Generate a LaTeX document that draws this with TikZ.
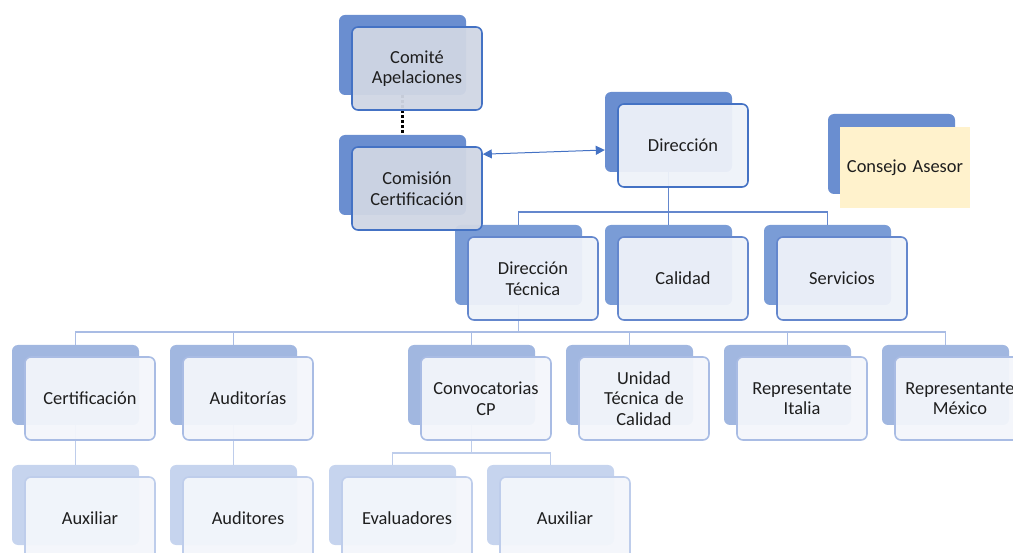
\documentclass[tikz,border=0pt]{standalone}
\usepackage{fontspec}
\setmainfont{Carlito}
\usepackage{tikz}
\usetikzlibrary{arrows.meta,calc}

\definecolor{backA}{RGB}{106,142,208}
\definecolor{backB}{RGB}{122,156,214}
\definecolor{backC}{RGB}{161,183,224}
\definecolor{backD}{RGB}{198,212,238}
\definecolor{lineA}{RGB}{68,114,196}
\definecolor{lineB}{RGB}{100,135,205}
\definecolor{lineC}{RGB}{169,188,228}
\definecolor{lineD}{RGB}{190,205,235}
\definecolor{fillA}{RGB}{208,214,228}
\definecolor{fillB}{RGB}{238,242,249}
\definecolor{fillC}{RGB}{243,246,251}
\definecolor{yellowbox}{RGB}{255,242,204}
\definecolor{txt}{RGB}{30,30,30}

\tikzset{
  backbox/.style={rectangle,rounded corners=6pt,minimum width=127pt,minimum height=80pt,inner sep=0pt},
  frontbox/.style={rectangle,rounded corners=6pt,minimum width=130pt,minimum height=83pt,inner sep=0pt,
    text width=124pt,align=center,line width=1.6pt,fill opacity=0.95,text opacity=1,text=txt,
    font=\fontsize{18.4}{20.5}\selectfont},
  link/.style={line width=1.4pt}
}

\begin{document}
\begin{tikzpicture}[x=1pt,y=-1pt]
  \useasboundingbox (0,0) rectangle (1013,553);
  % back blocks
  \node[backbox,fill=backA] (comb) at (402.5,55) {};
  \node[backbox,fill=backA] (cmsb) at (402.5,175) {};
  \node[backbox,fill=backA] (dirb) at (668.5,132) {};
  \node[backbox,fill=backA] (conb) at (891.5,154) {};
  \node[backbox,fill=backB] (dtb) at (518.5,265) {};
  \node[backbox,fill=backB] (calb) at (668.5,265) {};
  \node[backbox,fill=backB] (serb) at (827.5,265) {};
  \node[backbox,fill=backC] (cerb) at (75.5,385) {};
  \node[backbox,fill=backC] (audb) at (233.5,385) {};
  \node[backbox,fill=backC] (convb) at (471.5,385) {};
  \node[backbox,fill=backC] (utcb) at (629.5,385) {};
  \node[backbox,fill=backC] (itab) at (787.5,385) {};
  \node[backbox,fill=backC] (mexb) at (945.5,385) {};
  \node[backbox,fill=backD] (auxab) at (75.5,505) {};
  \node[backbox,fill=backD] (audtb) at (233.5,505) {};
  \node[backbox,fill=backD] (evab) at (392.5,505) {};
  \node[backbox,fill=backD] (auxbb) at (550.5,505) {};

  % connectors
  \draw[black,line width=2.5pt,dash pattern=on 2.5pt off 2.5pt] (comb.south) -- (cmsb.north);
  \draw[link,draw=lineB] (dirb.south) -- (calb.north);
  \draw[link,draw=lineB] (dirb.south) -- ++(0,40) -| (dtb.north);
  \draw[link,draw=lineB] (dirb.south) -- ++(0,40) -| (serb.north);
  \draw[link,draw=lineC] (dtb.south) -- ++(0,27) -| (cerb.north);
  \draw[link,draw=lineC] (dtb.south) -- ++(0,27) -| (audb.north);
  \draw[link,draw=lineC] (dtb.south) -- ++(0,27) -| (convb.north);
  \draw[link,draw=lineC] (dtb.south) -- ++(0,27) -| (utcb.north);
  \draw[link,draw=lineC] (dtb.south) -- ++(0,27) -| (itab.north);
  \draw[link,draw=lineC] (dtb.south) -- ++(0,27) -| (mexb.north);
  \draw[link,draw=lineD] (cerb.south) -- (auxab.north);
  \draw[link,draw=lineD] (audb.south) -- (audtb.north);
  \draw[link,draw=lineD] (convb.south) -- ++(0,28) -| (evab.north);
  \draw[link,draw=lineD] (convb.south) -- ++(0,28) -| (auxbb.north);

  % front blocks
  \node[frontbox,draw=lineA,fill=fillA] (comf) at (417,68.5) {Comité\\Apelaciones};
  \node[frontbox,draw=lineA,fill=fillA] (cmsf) at (417,188.5) {Comisión\\Certificación};
  \node[frontbox,draw=lineA,fill=fillB] (dirf) at (683,145.5) {Dirección};
  \node[frontbox,fill=yellowbox,fill opacity=1,rounded corners=0pt,minimum height=81pt] (conf) at (905,167.5) {Consejo Asesor};
  \node[frontbox,draw=lineB,fill=fillB] (dtf) at (533,278.5) {Dirección\\Técnica};
  \node[frontbox,draw=lineB,fill=fillB] (calf) at (683,278.5) {Calidad};
  \node[frontbox,draw=lineB,fill=fillB] (serf) at (842,278.5) {Servicios};
  \node[frontbox,draw=lineC,fill=fillC] (cerf) at (90,398.5) {Certificación};
  \node[frontbox,draw=lineC,fill=fillC] (audf) at (248,398.5) {Auditorías};
  \node[frontbox,draw=lineC,fill=fillC] (convf) at (486,398.5) {Convocatorias\\CP};
  \node[frontbox,draw=lineC,fill=fillC] (utcf) at (644,398.5) {Unidad\\Técnica de\\Calidad};
  \node[frontbox,draw=lineC,fill=fillC] (itaf) at (802,398.5) {Representate\\Italia};
  \node[frontbox,draw=lineC,fill=fillC] (mexf) at (960,398.5) {Representante\\México};
  \node[frontbox,draw=lineD,fill=fillC] (auxaf) at (90,518.5) {Auxiliar};
  \node[frontbox,draw=lineD,fill=fillC] (audtf) at (248,518.5) {Auditores};
  \node[frontbox,draw=lineD,fill=fillC] (evaf) at (407,518.5) {Evaluadores};
  \node[frontbox,draw=lineD,fill=fillC] (auxbf) at (565,518.5) {Auxiliar};

  % link Comision - Direccion
  \draw[link,draw=lineA,line width=1pt,{Triangle[length=9pt,width=9pt]}-{Triangle[length=9pt,width=9pt]}]
    ($(cmsf.north east)+(0,8)$) -- ($(dirb.west)+(0,18)$);
\end{tikzpicture}
\end{document}
